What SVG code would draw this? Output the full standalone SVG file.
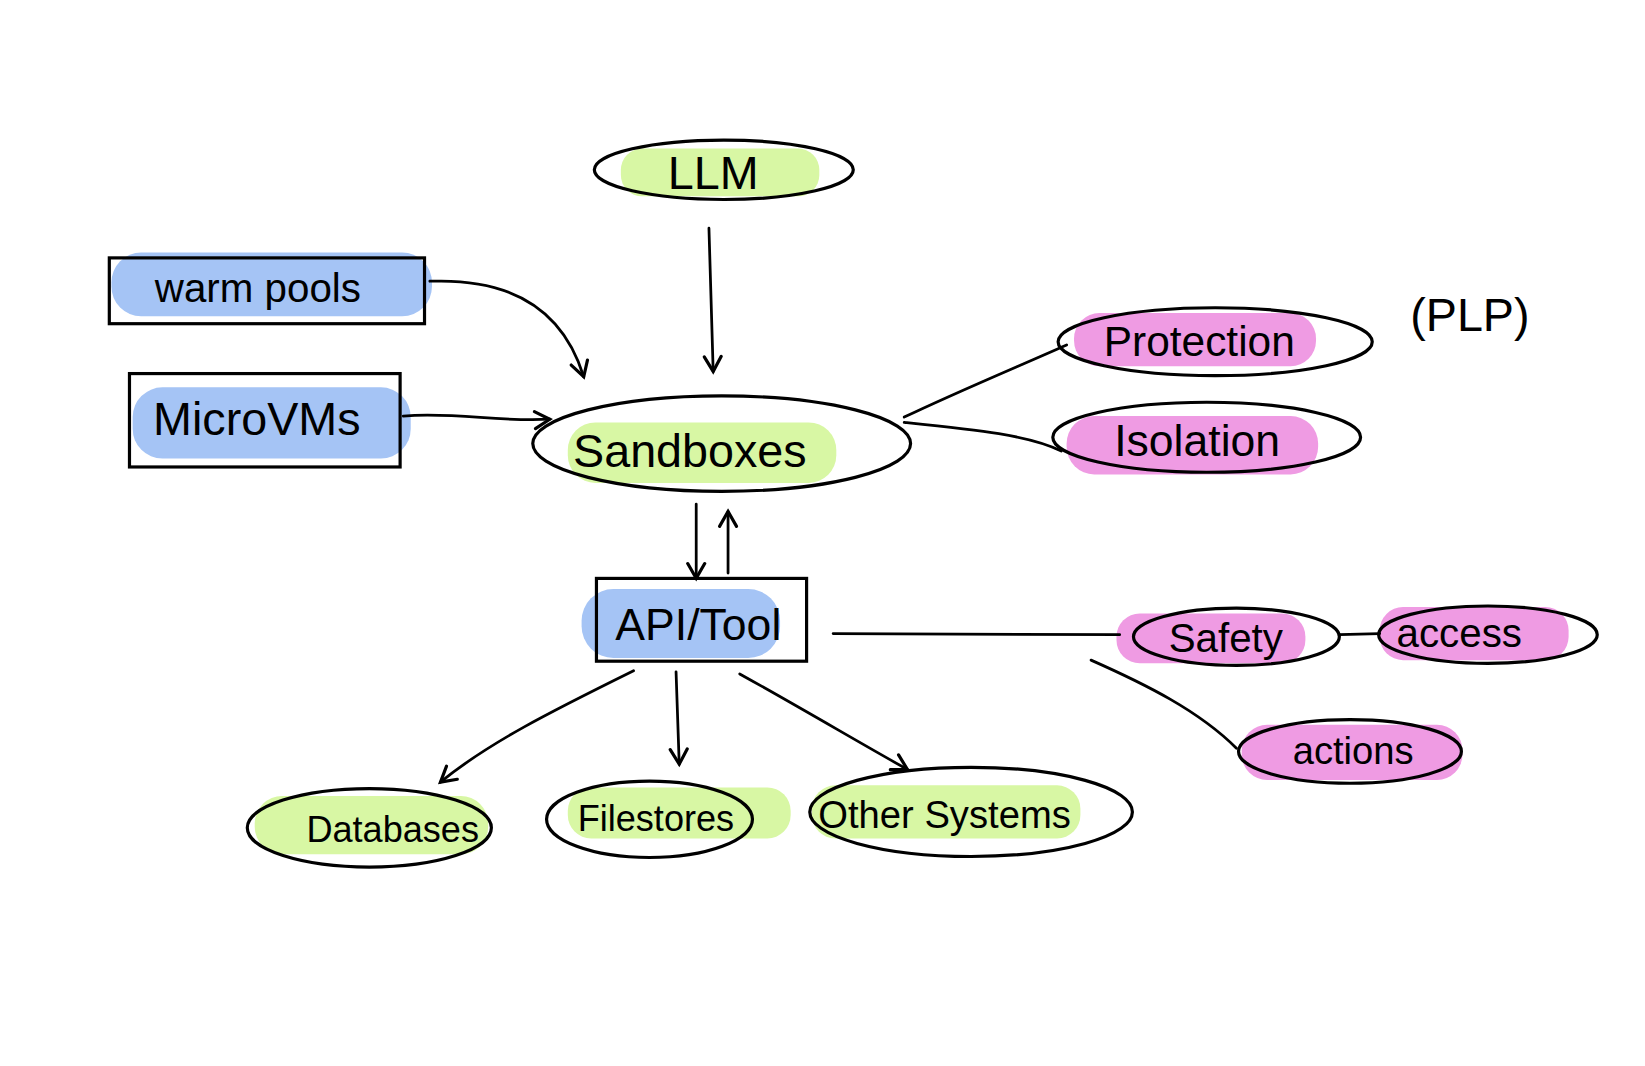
<svg xmlns="http://www.w3.org/2000/svg" width="1645" height="1066" viewBox="0 0 1645 1066">
<defs>
<marker id="ah" viewBox="0 0 20 20" refX="16" refY="10" markerWidth="20" markerHeight="20" markerUnits="userSpaceOnUse" orient="auto">
<path d="M2,2 L16,10 L2,18" fill="none" stroke="#000" stroke-width="3" stroke-linecap="round"/>
</marker>
</defs>
<style>
.o{fill:none;stroke:#000;stroke-width:3}
.g{fill:#d8f7a4}
.b{fill:#a5c4f5}
.p{fill:#ef9be3}
.t{font-family:"Liberation Sans",sans-serif;fill:#000;text-anchor:middle}
.c{fill:none;stroke:#000;stroke-width:2.6;stroke-linecap:round}
</style>
<rect width="1645" height="1066" fill="#fff"/>
<g transform="scale(1.0613)">
<g id="llm"><rect class="g" x="585" y="140" width="187" height="45" rx="20"/><ellipse class="o" cx="682" cy="160" rx="122" ry="28"/><text class="t" x="672" y="178" font-size="44">LLM</text></g>
<g id="warm-pools"><rect class="b" x="105" y="238" width="302" height="60" rx="28"/><rect class="o" x="103" y="243" width="297" height="62"/><text class="t" x="243" y="285" font-size="38">warm pools</text></g>
<g id="microvms"><rect class="b" x="125" y="365" width="262" height="67" rx="28"/><rect class="o" x="122" y="352" width="255" height="88"/><text class="t" x="242" y="410" font-size="44">MicroVMs</text></g>
<g id="sandboxes"><rect class="g" x="535" y="398" width="253" height="57" rx="26"/><ellipse class="o" cx="680" cy="418" rx="178" ry="45"/><text class="t" x="650" y="440" font-size="44">Sandboxes</text></g>
<g id="api-tool"><rect class="b" x="548" y="555" width="187" height="65" rx="30"/><rect class="o" x="562" y="545" width="198" height="78"/><text class="t" x="658" y="603" font-size="42">API/Tool</text></g>
<g id="protection"><rect class="p" x="1012" y="295" width="228" height="50" rx="24"/><ellipse class="o" cx="1145" cy="322" rx="148" ry="32"/><text class="t" x="1130" y="335" font-size="40">Protection</text></g>
<g id="plp"><text class="t" x="1385" y="312" font-size="44">(PLP)</text></g>
<g id="isolation"><rect class="p" x="1005" y="392" width="237" height="55" rx="26"/><ellipse class="o" cx="1137" cy="412" rx="145" ry="33"/><text class="t" x="1128" y="430" font-size="42">Isolation</text></g>
<g id="safety"><rect class="p" x="1052" y="578" width="178" height="47" rx="22"/><ellipse class="o" cx="1165" cy="600" rx="97" ry="27"/><text class="t" x="1155" y="614" font-size="38">Safety</text></g>
<g id="access"><rect class="p" x="1300" y="572" width="178" height="50" rx="22"/><ellipse class="o" cx="1402" cy="598" rx="103" ry="27"/><text class="t" x="1375" y="610" font-size="38">access</text></g>
<g id="actions"><rect class="p" x="1170" y="683" width="208" height="52" rx="24"/><ellipse class="o" cx="1272" cy="708" rx="105" ry="30"/><text class="t" x="1275" y="720" font-size="36">actions</text></g>
<g id="databases"><rect class="g" x="240" y="750" width="220" height="55" rx="26"/><ellipse class="o" cx="348" cy="780" rx="115" ry="37"/><text class="t" x="370" y="793" font-size="34">Databases</text></g>
<g id="filestores"><rect class="g" x="535" y="742" width="210" height="48" rx="22"/><ellipse class="o" cx="612" cy="772" rx="97" ry="36"/><text class="t" x="618" y="783" font-size="34">Filestores</text></g>
<g id="other-systems"><rect class="g" x="765" y="740" width="253" height="50" rx="22"/><ellipse class="o" cx="915" cy="765" rx="152" ry="42"/><text class="t" x="890" y="780" font-size="36">Other Systems</text></g>
<g id="connectors">
<path class="c" d="M405,265 C480,262 530,290 550,355" marker-end="url(#ah)"/>
<path class="c" d="M380,392 C430,388 470,398 518,395" marker-end="url(#ah)"/>
<path class="c" d="M668,215 L672,350" marker-end="url(#ah)"/>
<path class="c" d="M656,475 L656,545" marker-end="url(#ah)"/>
<path class="c" d="M686,540 L686,482" marker-end="url(#ah)"/>
<path class="c" d="M852,393 C900,370 960,345 1005,325"/>
<path class="c" d="M852,398 C920,405 970,410 1000,425"/>
<path class="c" d="M785,597 L1055,598"/>
<path class="c" d="M1262,598 L1300,597"/>
<path class="c" d="M1028,622 C1080,645 1130,670 1165,705"/>
<path class="c" d="M597,632 C520,670 460,700 415,737" marker-end="url(#ah)"/>
<path class="c" d="M637,633 L640,720" marker-end="url(#ah)"/>
<path class="c" d="M697,635 C760,670 810,700 855,725" marker-end="url(#ah)"/>
</g>
</g>
</svg>
